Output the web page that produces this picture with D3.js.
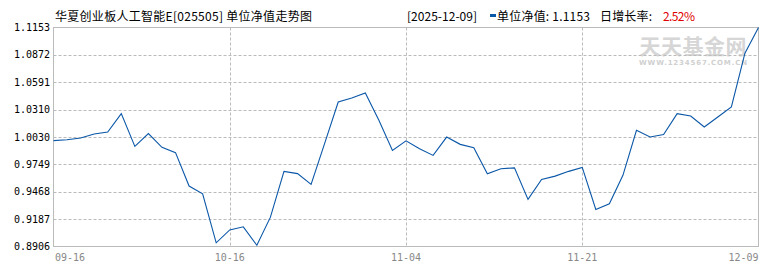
<!DOCTYPE html>
<html>
<head>
<meta charset="utf-8">
<script src="https://cdn.jsdelivr.net/npm/d3@7.9.0/dist/d3.min.js"></script>
<style>
  body { margin: 0; background: #fff; }
  svg { display: block; }
  .cjk { font-family: "Noto Sans CJK SC", sans-serif; }
  .num { font-family: "DejaVu Sans Mono", monospace; }
</style>
</head>
<body>
<svg id="chart" width="770" height="270"></svg>
<script>
// unit NAV, one value per published day, 09-16 .. 12-09
const navValues = [
  0.9992, 1.0002, 1.0019, 1.0060, 1.0080, 1.0269, 0.9933, 1.0064, 0.9923, 0.9869,
  0.9526, 0.9447, 0.8944, 0.9076, 0.9108, 0.8919, 0.9207, 0.9677, 0.9654, 0.9543,
  0.9964, 1.0388, 1.0429, 1.0481, 1.0201, 0.9892, 0.9990, 0.9910, 0.9841, 1.0029,
  0.9954, 0.9920, 0.9653, 0.9704, 0.9713, 0.9389, 0.9594, 0.9628, 0.9677, 0.9718,
  0.9286, 0.9345, 0.9636, 1.0098, 1.0029, 1.0054, 1.0269, 1.0245, 1.0132, 1.0235,
  1.0339, 1.0889, 1.1153
];
const xTickIndex = [0, 13, 26, 39, 52];
const xTickLabels = ["09-16", "10-16", "11-04", "11-21", "12-09"];
const yTickValues = [0.8906, 0.9187, 0.9468, 0.9749, 1.0030, 1.0310, 1.0591, 1.0872, 1.1153];
const yTickLabels = ["0.8906", "0.9187", "0.9468", "0.9749", "1.0030", "1.0310", "1.0591", "1.0872", "1.1153"];

const titleText = "华夏创业板人工智能E[025505] 单位净值走势图";
const headerDate = "[2025-12-09]";
const headerNav = "单位净值: 1.1153";
const headerRate = "日增长率:";
const headerRateValue = "2.52%";

const area = { left: 53.5, right: 758.5, top: 27.5, bottom: 246.5 };
const gridColor = "#bbbbbb";
const lineColor = "#0a57a8";

const svg = d3.select("#chart");

const x = d3.scaleLinear().domain([0, navValues.length - 1]).range([area.left, area.right]);
const y = d3.scaleLinear().domain([yTickValues[0], yTickValues[yTickValues.length - 1]])
  .range([area.bottom, area.top]);

// title + header
const header = [
  { text: titleText, x: 55, w: 257, color: "#000" },
  { text: headerDate, x: 407, w: 70, color: "#000" },
  { text: headerNav, x: 497, w: 93, color: "#000" },
  { text: headerRate, x: 600, w: 52, color: "#000" },
  { text: headerRateValue, x: 663, w: 32, color: "#e00000" }
];
svg.append("g")
  .selectAll("text")
  .data(header)
  .join("text")
  .attr("class", "cjk")
  .attr("x", (d) => d.x).attr("y", 21)
  .attr("font-size", 12).attr("fill", (d) => d.color)
  .attr("textLength", (d) => d.w).attr("lengthAdjust", "spacing")
  .text((d) => d.text);
svg.append("rect").attr("x", 490).attr("y", 14).attr("width", 6).attr("height", 3)
  .attr("fill", lineColor);

// watermark
svg.append("text").attr("class", "cjk").attr("x", 693).attr("y", 54)
  .attr("text-anchor", "middle").attr("font-size", 21).attr("font-weight", "bold")
  .attr("fill", "#d6d6d6").attr("textLength", 107).text("天天基金网");
svg.append("text").attr("x", 639).attr("y", 65)
  .attr("font-family", "DejaVu Sans, sans-serif").attr("font-size", 7).attr("font-weight", "bold")
  .attr("fill", "#d0d0d0").attr("textLength", 108).text("WWW.1234567.COM.CN");

// horizontal grid
svg.append("g")
  .selectAll("line")
  .data(yTickValues.slice(1, -1))
  .join("line")
  .attr("x1", area.left).attr("x2", area.right)
  .attr("y1", (d) => Math.round(y(d)) + 0.5).attr("y2", (d) => Math.round(y(d)) + 0.5)
  .attr("stroke", gridColor).attr("stroke-dasharray", "3,2");

// vertical grid
svg.append("g")
  .selectAll("line")
  .data(xTickIndex.slice(1, -1))
  .join("line")
  .attr("x1", (d) => Math.round(x(d)) + 0.5).attr("x2", (d) => Math.round(x(d)) + 0.5)
  .attr("y1", area.top).attr("y2", area.bottom)
  .attr("stroke", gridColor).attr("stroke-dasharray", "3,2");

// frame
svg.append("rect")
  .attr("x", area.left).attr("y", area.top)
  .attr("width", area.right - area.left).attr("height", area.bottom - area.top)
  .attr("fill", "none").attr("stroke", gridColor);

// y labels
svg.append("g")
  .selectAll("text")
  .data(yTickValues)
  .join("text")
  .attr("class", "num")
  .attr("x", 50).attr("y", (d) => y(d)).attr("dy", "0.36em")
  .attr("text-anchor", "end").attr("font-size", 10).attr("fill", "#000")
  .text((d, i) => yTickLabels[i]);

// x labels
svg.append("g")
  .selectAll("text")
  .data(xTickIndex)
  .join("text")
  .attr("class", "num")
  .attr("x", (d, i) => i === 0 ? x(d) + 1.5 : x(d))
  .attr("y", 261)
  .attr("text-anchor", (d, i) => i === 0 ? "start" : (i === xTickIndex.length - 1 ? "end" : "middle"))
  .attr("font-size", 10).attr("fill", "#888")
  .text((d, i) => xTickLabels[i]);

// nav line
const line = d3.line().x((d, i) => x(i)).y((d) => y(d));
svg.append("path")
  .datum(navValues)
  .attr("d", line)
  .attr("fill", "none")
  .attr("stroke", lineColor)
  .attr("stroke-width", 1.1);
</script>
</body>
</html>
